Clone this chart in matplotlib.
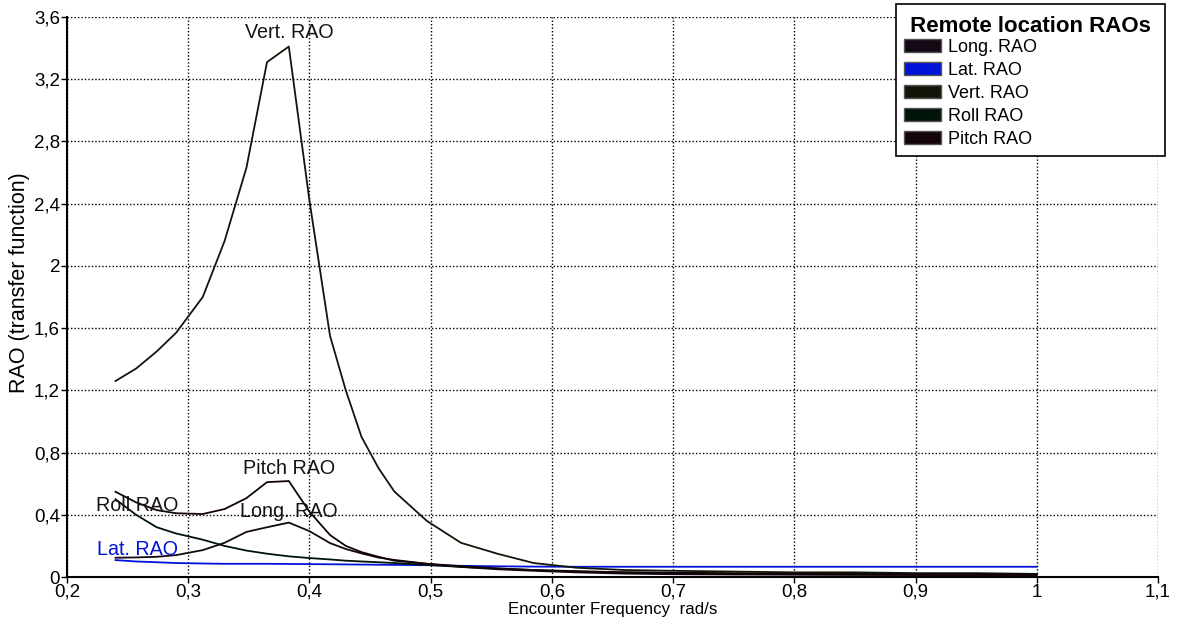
import matplotlib
matplotlib.use("Agg")
import matplotlib.pyplot as plt
from matplotlib.patches import Patch
from matplotlib.ticker import FuncFormatter, MultipleLocator

plt.rcParams['font.family'] = ['Liberation Sans', 'DejaVu Sans']

# Encounter frequency samples (rad/s)
freq = [0.24, 0.257, 0.274, 0.29, 0.312, 0.33, 0.348, 0.365, 0.383, 0.40,
        0.417, 0.43, 0.443, 0.457, 0.47, 0.497, 0.525, 0.555, 0.585, 0.62,
        0.66, 0.70, 0.75, 0.80, 0.85, 0.90, 0.95, 1.00]

long_rao = [0.124, 0.126, 0.13, 0.141, 0.173, 0.22, 0.29, 0.32, 0.35, 0.295,
            0.218, 0.18, 0.152, 0.125, 0.11, 0.085, 0.065, 0.05, 0.04, 0.03,
            0.022, 0.018, 0.016, 0.015, 0.014, 0.013, 0.012, 0.012]
lat_rao = [0.109, 0.10, 0.095, 0.09, 0.087, 0.085, 0.085, 0.085, 0.084, 0.083,
           0.082, 0.081, 0.08, 0.079, 0.078, 0.076, 0.072, 0.069, 0.067, 0.066,
           0.066, 0.066, 0.066, 0.066, 0.066, 0.066, 0.066, 0.066]
vert_rao = [1.26, 1.34, 1.45, 1.57, 1.80, 2.16, 2.63, 3.31, 3.41, 2.42,
            1.55, 1.20, 0.90, 0.70, 0.55, 0.36, 0.22, 0.15, 0.09, 0.06,
            0.045, 0.04, 0.035, 0.03, 0.03, 0.025, 0.025, 0.02]
roll_rao = [0.50, 0.40, 0.32, 0.28, 0.24, 0.20, 0.17, 0.15, 0.133, 0.122,
            0.113, 0.105, 0.10, 0.095, 0.09, 0.078, 0.065, 0.055, 0.045, 0.038,
            0.03, 0.028, 0.025, 0.022, 0.021, 0.02, 0.02, 0.02]
pitch_rao = [0.548, 0.48, 0.43, 0.41, 0.405, 0.437, 0.507, 0.61, 0.617, 0.42,
             0.27, 0.20, 0.16, 0.13, 0.105, 0.085, 0.07, 0.055, 0.045, 0.035,
             0.03, 0.025, 0.02, 0.018, 0.016, 0.015, 0.015, 0.015]

names = ['Long. RAO', 'Lat. RAO', 'Vert. RAO', 'Roll RAO', 'Pitch RAO']
colors = ['#140814', '#0014d8', '#141408', '#001408', '#140408']
series = [long_rao, lat_rao, vert_rao, roll_rao, pitch_rao]

# where each curve name is written
label_pos = {
    'Vert. RAO': (0.383, 3.50),
    'Pitch RAO': (0.383, 0.70),
    'Long. RAO': (0.383, 0.42),
    'Roll RAO': (0.258, 0.46),
    'Lat. RAO': (0.258, 0.175),
}

fig = plt.figure(figsize=(11.88, 6.27), dpi=100)
ax = fig.add_axes([0.0564, 0.0797, 0.9183, 0.8932])

for name, ys, c in zip(names, series, colors):
    ax.plot(freq, ys, color=c, linewidth=1.3)
    lx, ly = label_pos[name]
    ax.text(lx, ly, name, ha='center', va='center', fontsize=14.2,
            color='#0014d8' if name == 'Lat. RAO' else '#141414')

ax.set_xlim(0.2, 1.1)
ax.set_ylim(0, 3.6)
ax.xaxis.set_major_locator(MultipleLocator(0.1))
ax.yaxis.set_major_locator(MultipleLocator(0.4))
comma = FuncFormatter(lambda v, p: f"{round(v, 2):g}".replace('.', ','))
ax.xaxis.set_major_formatter(comma)
ax.yaxis.set_major_formatter(comma)
ax.tick_params(labelsize=13.5, length=4, width=1, pad=1)

ax.grid(True, color='black', linestyle=(0, (1, 1.5)), linewidth=1)
for s in ['top', 'right']:
    ax.spines[s].set_visible(False)
for s in ['left', 'bottom']:
    ax.spines[s].set_linewidth(1.5)

ax.set_xlabel('Encounter Frequency  rad/s', fontsize=12.2)
ax.set_ylabel('RAO (transfer function)', fontsize=15.5)
ax.xaxis.set_label_coords(0.5, -0.045)
ax.yaxis.set_label_coords(-0.034, 0.526)

handles = [Patch(facecolor=c, edgecolor='#555555', label=n) for n, c in zip(names, colors)]
leg = ax.legend(handles=handles, title=' Remote location RAOs ', loc='upper right',
                bbox_to_anchor=(1.0064, 1.0232), borderaxespad=0, fontsize=13,
                frameon=True, fancybox=False, edgecolor='black', framealpha=1,
                handlelength=2.05, handleheight=0.7, labelspacing=0.33,
                borderpad=0.45, handletextpad=0.4, alignment='left')
leg.get_title().set_fontsize(16)
leg.get_title().set_fontweight('bold')
# nudge the title down a little towards the first entry
leg.get_title().set_position((0, -4))
leg.get_frame().set_linewidth(1.2)

fig.savefig('out.png', dpi=100)
